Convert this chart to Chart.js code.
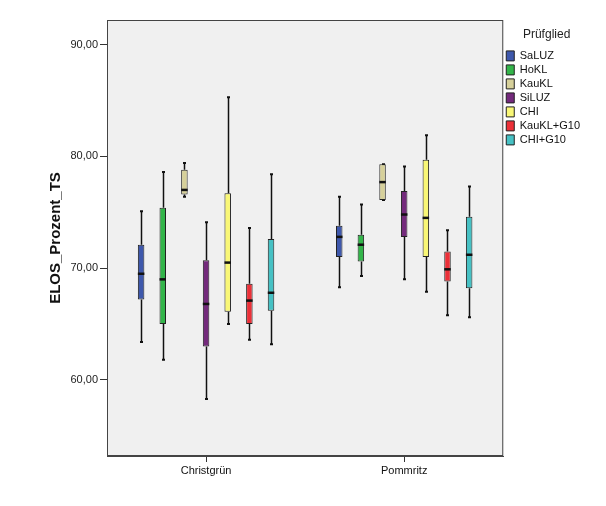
<!DOCTYPE html>
<html>
<head>
<meta charset="utf-8">
<script src="https://cdn.jsdelivr.net/npm/chart.js@4"></script>
<style>
  body { margin: 0; background: #fff; }
  #wrap { width: 606px; height: 506px; }
</style>
</head>
<body>
<div id="wrap"><canvas id="boxChart" width="606" height="506"></canvas></div>
<script>
// ---------- DATA ----------
const groups = ["Christgrün", "Pommritz"];
const series = ["SaLUZ", "HoKL", "KauKL", "SiLUZ", "CHI", "KauKL+G10", "CHI+G10"];
const colors = ["#3e58ac", "#33b54a", "#d6d09a", "#742a7c", "#f9f776", "#ec3038", "#46c1c4"];

// per series: [Christgrün, Pommritz]
const whiskerLow  = [[63.4, 68.3], [61.8, 69.3], [76.4, 76.1], [58.3, 69.0], [65.0, 67.9], [63.6, 65.8], [63.2, 65.6]];
const q1          = [[67.2, 71.0], [65.0, 70.6], [76.6, 76.1], [63.0, 72.8], [66.1, 71.0], [65.0, 68.8], [66.2, 68.2]];
const median      = [[69.5, 72.8], [69.0, 72.1], [77.0, 77.7], [66.8, 74.8], [70.5, 74.5], [67.1, 69.9], [67.8, 71.2]];
const q3          = [[72.1, 73.8], [75.4, 73.0], [78.8, 79.3], [70.7, 76.9], [76.7, 79.7], [68.6, 71.5], [72.6, 74.6]];
const whiskerHigh = [[75.1, 76.4], [78.6, 75.7], [79.4, 79.3], [74.1, 79.1], [85.3, 81.9], [73.6, 73.4], [78.4, 77.3]];

const yTicks = [60, 70, 80, 90];

// ---------- PLUGINS ----------
// grey plot background + frame
const plotFrame = {
    id: "plotFrame",
    beforeDraw(chart) {
        const a = chart.chartArea, ctx = chart.ctx;
        ctx.save();
        ctx.fillStyle = "#f0f0f0";
        ctx.fillRect(a.left, a.top, a.right - a.left, a.bottom - a.top);
        ctx.strokeStyle = "#444";
        ctx.lineWidth = 1;
        ctx.strokeRect(a.left + 0.5, a.top + 0.5, a.right - a.left - 1, a.bottom - a.top - 1);
        ctx.restore();
    }
};

// whiskers and medians drawn from the bar elements + y scale
const boxParts = {
    id: "boxParts",
    beforeDatasetsDraw(chart) {
        const ctx = chart.ctx, y = chart.scales.y;
        ctx.save();
        ctx.strokeStyle = "#111";
        chart.data.datasets.forEach((ds, i) => {
            chart.getDatasetMeta(i).data.forEach((bar, j) => {
                const x = Math.round(bar.x) + 0.5;
                ctx.lineWidth = 1.5;
                ctx.beginPath();
                ctx.moveTo(x, y.getPixelForValue(whiskerHigh[i][j]));
                ctx.lineTo(x, y.getPixelForValue(q3[i][j]));
                ctx.moveTo(x, y.getPixelForValue(q1[i][j]));
                ctx.lineTo(x, y.getPixelForValue(whiskerLow[i][j]));
                ctx.stroke();
                ctx.lineWidth = 2;
                ctx.beginPath();
                [whiskerHigh[i][j], whiskerLow[i][j]].forEach(v => {
                    const py = y.getPixelForValue(v);
                    ctx.moveTo(x - 1.5, py);
                    ctx.lineTo(x + 1.5, py);
                });
                ctx.stroke();
            });
        });
        ctx.restore();
    },
    afterDatasetsDraw(chart) {
        const ctx = chart.ctx, y = chart.scales.y;
        ctx.save();
        ctx.strokeStyle = "#111";
        ctx.lineWidth = 2.5;
        chart.data.datasets.forEach((ds, i) => {
            chart.getDatasetMeta(i).data.forEach((bar, j) => {
                const py = y.getPixelForValue(median[i][j]);
                ctx.beginPath();
                ctx.moveTo(bar.x - bar.width / 2, py);
                ctx.lineTo(bar.x + bar.width / 2, py);
                ctx.stroke();
            });
        });
        ctx.restore();
    }
};

// ---------- CHART ----------
const datasets = series.map((name, i) => ({
    label: name,
    data: groups.map((g, j) => [q1[i][j], q3[i][j]]),
    backgroundColor: colors[i],
    borderColor: "#222",
    borderWidth: 1,
    borderSkipped: false,
    barPercentage: 0.3,
    categoryPercentage: 0.765
}));

new Chart(document.getElementById("boxChart"), {
    type: "bar",
    data: { labels: groups, datasets: datasets },
    options: {
        responsive: false,
        animation: false,
        layout: { padding: { left: 43, top: 20, right: 16, bottom: 0 } },
        plugins: {
            tooltip: { enabled: false },
            legend: {
                position: "right",
                align: "start",
                title: {
                    display: true,
                    text: "Prüfglied",
                    color: "#222",
                    font: { family: "Liberation Sans", size: 12 },
                    padding: { top: 9, bottom: 4 }
                },
                labels: {
                    boxWidth: 8,
                    boxHeight: 10,
                    padding: 3,
                    color: "#111",
                    font: { family: "Liberation Sans", size: 11 }
                }
            }
        },
        scales: {
            x: {
                offset: true,
                grid: { offset: false, drawOnChartArea: false, tickLength: 6, color: "#333" },
                border: { color: "#444" },
                ticks: { color: "#111", font: { family: "Liberation Sans", size: 11 }, padding: 2 },
                afterFit(scale) { scale.height = 50; }
            },
            y: {
                min: 53.2,
                max: 92.2,
                afterBuildTicks(scale) { scale.ticks = yTicks.map(v => ({ value: v })); },
                grid: { drawOnChartArea: false, tickLength: 7, color: "#333" },
                border: { color: "#444" },
                ticks: {
                    color: "#222",
                    font: { family: "Liberation Sans", size: 11 },
                    padding: 2,
                    callback: v => v.toFixed(2).replace(".", ",")
                },
                title: {
                    display: true,
                    text: "ELOS_Prozent_TS",
                    color: "#111",
                    font: { family: "Liberation Sans", size: 15, weight: "bold" }
                },
                afterFit(scale) { scale.width = 64; }
            }
        }
    },
    plugins: [plotFrame, boxParts]
});
</script>
</body>
</html>
